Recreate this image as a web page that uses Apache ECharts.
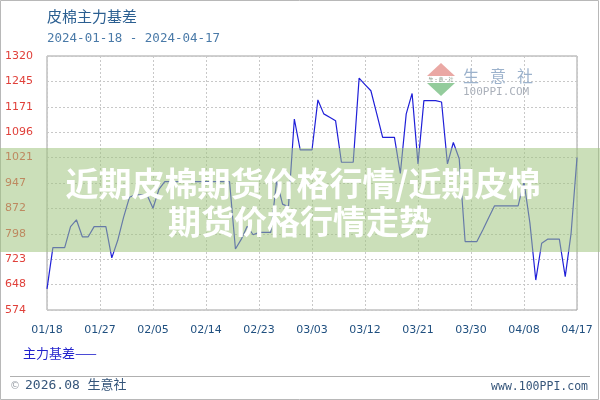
<!DOCTYPE html>
<html>
<head>
<meta charset="utf-8">
<script src="https://cdn.jsdelivr.net/npm/echarts@6/dist/echarts.min.js"></script>
<style>html,body{margin:0;padding:0;background:#fff;}#c{width:600px;height:400px;}</style>
</head>
<body>
<div id="c"></div>
<script>
const titleText = '皮棉主力基差';
const subtitleText = '2024-01-18 - 2024-04-17';
const seriesName = '主力基差';
const bannerLine1 = '近期皮棉期货价格行情/近期皮棉';
const bannerLine2 = '期货价格行情走势';
const footerLeft = '2026.08 生意社';
const footerRight = 'www.100PPI.com';
const logoChars = ['生', '意', '社'];

const dates = [
 '01/18','01/19','01/20','01/21','01/22','01/23','01/24','01/25','01/26','01/27','01/28','01/29','01/30','01/31',
 '02/01','02/02','02/03','02/04','02/05','02/06','02/07','02/08','02/09','02/10','02/11','02/12','02/13','02/14','02/15','02/16','02/17','02/18','02/19','02/20','02/21','02/22','02/23','02/24','02/25','02/26','02/27','02/28','02/29',
 '03/01','03/02','03/03','03/04','03/05','03/06','03/07','03/08','03/09','03/10','03/11','03/12','03/13','03/14','03/15','03/16','03/17','03/18','03/19','03/20','03/21','03/22','03/23','03/24','03/25','03/26','03/27','03/28','03/29','03/30','03/31',
 '04/01','04/02','04/03','04/04','04/05','04/06','04/07','04/08','04/09','04/10','04/11','04/12','04/13','04/14','04/15','04/16','04/17'
];

const basis = [
 636,757,757,757,819,839,789,789,819,819,819,727,778,846,
 905,912,912,912,873,928,951,951,951,951,951,951,951,951,951,951,951,951,753,782,820,795,802,802,802,954,885,877,1135,
 1044,1044,1044,1191,1150,1140,1130,1008,1008,1008,1255,1236,1218,1150,1081,1081,1081,975,1150,1210,1003,1189,1189,1189,1185,1003,1066,1018,775,775,775,
 809,845,880,880,880,880,880,950,830,662,770,782,782,782,672,800,1022
];

const yTickLabels = ['574','648','723','798','872','947','1021','1096','1171','1245','1320'];
const yMin = 574, yStep = 74.6;

const chart = echarts.init(document.getElementById('c'), null, {renderer: 'canvas'});
const cjk = '"Noto Sans CJK SC", "Noto Sans", sans-serif';

const logoText = logoChars.map((ch, i) => ({
  type: 'text', x: 463 + i * 27, y: 76,
  style: {text: ch, font: '16px ' + cjk, fill: '#9cb2cc', verticalAlign: 'middle'}, z: 2
}));

chart.setOption({
  animation: false,
  backgroundColor: '#fff',
  grid: {left: 47, right: 23, top: 56, bottom: 90, show: true, borderColor: '#a0a0a0', borderWidth: 1, backgroundColor: 'transparent'},
  xAxis: {
    type: 'category',
    data: dates,
    boundaryGap: false,
    axisLine: {show: false},
    axisTick: {show: false},
    axisLabel: {interval: 8, color: '#1f4f7f', fontFamily: '"DejaVu Sans"', fontSize: 11, margin: 15, showMaxLabel: true},
    splitLine: {show: true, interval: 8, lineStyle: {color: '#c8c8c8', type: [2, 2], width: 1}}
  },
  yAxis: {
    type: 'value',
    min: yMin,
    max: yMin + yStep * 10,
    interval: yStep,
    axisLine: {show: false},
    axisTick: {show: false},
    axisLabel: {
      color: '#e0403a', fontFamily: '"DejaVu Sans"', fontSize: 11, align: 'left', margin: 42,
      formatter: v => { const i = Math.round((v - yMin) / yStep); return yTickLabels[i] || ''; }
    },
    splitLine: {show: true, lineStyle: {color: '#c8c8c8', type: [2, 2], width: 1}}
  },
  series: [{
    name: seriesName,
    type: 'line',
    data: basis,
    symbol: 'none',
    lineStyle: {color: '#2020d8', width: 1.2},
    z: 3
  }],
  graphic: [
    {type: 'rect', shape: {x: 0.5, y: 0.5, width: 598, height: 399}, style: {fill: 'none', stroke: '#b8b8b8', lineWidth: 1}, z: 1},
    {type: 'text', left: 47, top: 9, style: {text: titleText, font: '15px ' + cjk, fill: '#2b5f91'}},
    {type: 'text', left: 47, top: 32, style: {text: subtitleText, font: '12.5px "DejaVu Sans Mono", monospace', fill: '#4a7aa8'}},
    // watermark logo
    {type: 'polygon', shape: {points: [[441, 63], [455, 76], [427, 76]]}, style: {fill: '#eaa8a4'}, z: 2},
    {type: 'text', x: 441, y: 79.5, style: {text: '生·意·社', font: '5px ' + cjk, fill: '#8a9a8a', align: 'center', verticalAlign: 'middle'}, z: 2},
    {type: 'polygon', shape: {points: [[427, 83], [455, 83], [441, 96]]}, style: {fill: '#94cc9c'}, z: 2},
    ...logoText,
    {type: 'text', x: 463, y: 92.5, style: {text: '100PPI.COM', font: '11px "DejaVu Sans Mono", monospace', fill: '#aab0ba', verticalAlign: 'middle'}, z: 2},
    // legend + footer
    {type: 'text', left: 23, top: 347, style: {text: seriesName + '——', font: '13px ' + cjk, fill: '#2222cc'}},
    {type: 'line', shape: {x1: 10, y1: 376.5, x2: 590, y2: 376.5}, style: {stroke: '#b0b0b0', lineWidth: 1}},
    {type: 'text', left: 10, top: 381, style: {text: '©', font: '10px "DejaVu Sans"', fill: '#9aa0a8'}},
    {type: 'text', left: 25, top: 379, style: {text: footerLeft, font: '13px "DejaVu Sans Mono", ' + cjk, fill: '#35557a'}},
    {type: 'text', right: 12, top: 381, style: {text: footerRight, font: '11.5px "DejaVu Sans Mono", monospace', fill: '#35557a'}},
    // banner overlay
    {type: 'rect', shape: {x: 0, y: 148, width: 600, height: 104}, style: {fill: 'rgba(160,196,128,0.55)'}, z: 50},
    {type: 'text', x: 303, y: 183, style: {text: bannerLine1, font: 'bold 33px ' + cjk, fill: '#ffffff', align: 'center', verticalAlign: 'middle', shadowColor: 'rgba(0,0,0,0.15)', shadowBlur: 2}, z: 51},
    {type: 'text', x: 300, y: 221, style: {text: bannerLine2, font: 'bold 33px ' + cjk, fill: '#ffffff', align: 'center', verticalAlign: 'middle', shadowColor: 'rgba(0,0,0,0.15)', shadowBlur: 2}, z: 51}
  ]
});
</script>
</body>
</html>
